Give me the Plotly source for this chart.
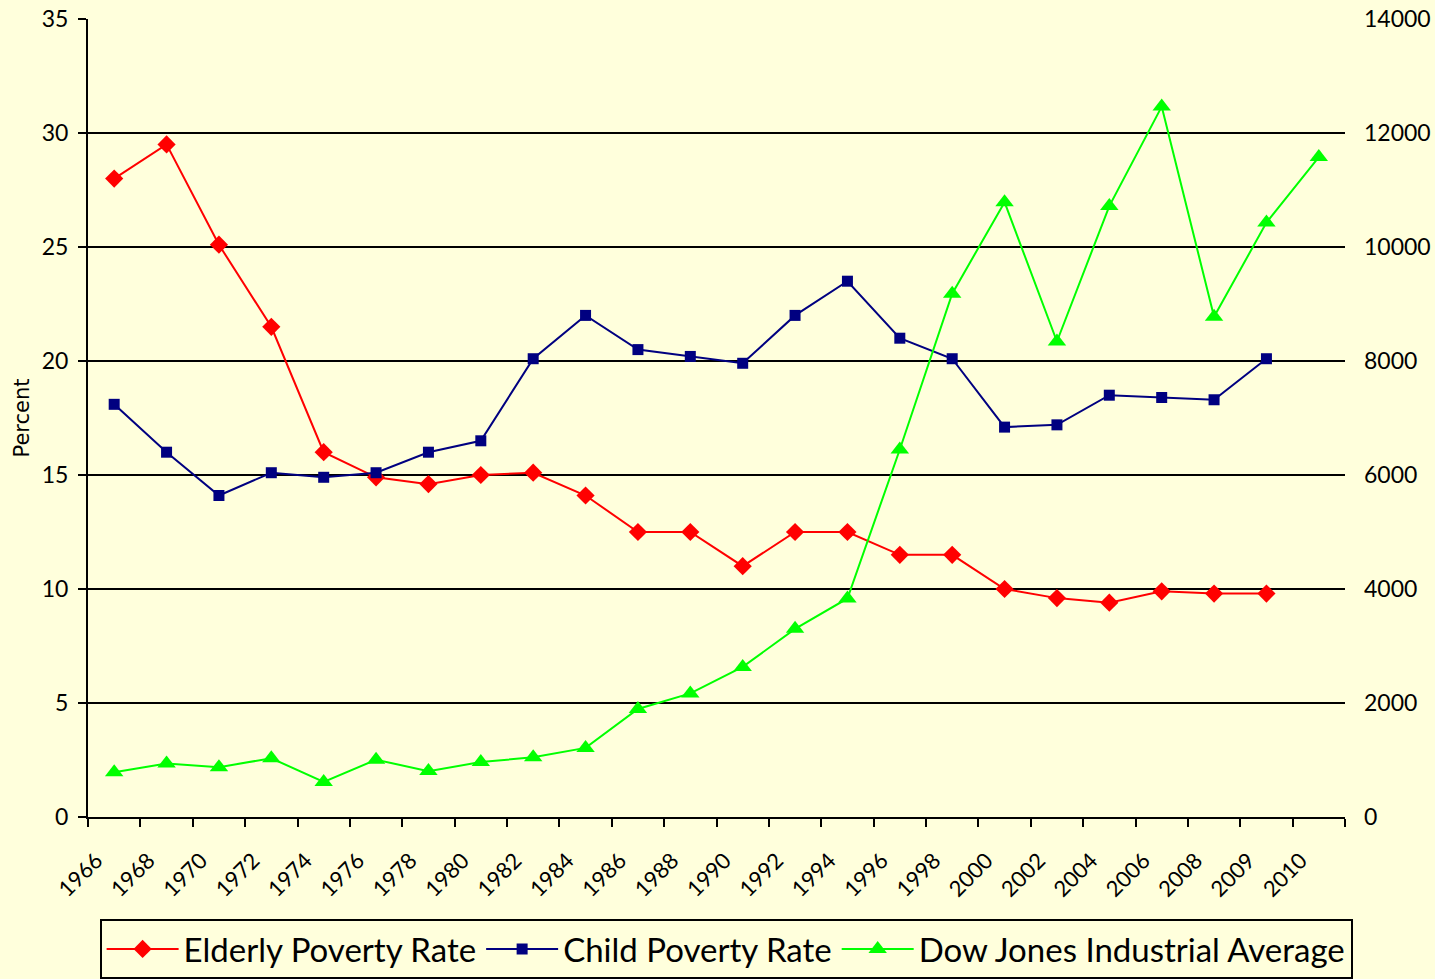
import plotly.graph_objects as go

years = ["1966", "1968", "1970", "1972", "1974", "1976", "1978", "1980", "1982", "1984",
         "1986", "1988", "1990", "1992", "1994", "1996", "1998", "2000", "2002", "2004",
         "2006", "2008", "2009", "2010"]

elderly = [28.0, 29.5, 25.1, 21.5, 16.0, 14.9, 14.6, 15.0, 15.1, 14.1,
           12.5, 12.5, 11.0, 12.5, 12.5, 11.5, 11.5, 10.0, 9.6, 9.4,
           9.9, 9.8, 9.8]

child = [18.1, 16.0, 14.1, 15.1, 14.9, 15.1, 16.0, 16.5, 20.1, 22.0,
         20.5, 20.2, 19.9, 22.0, 23.5, 21.0, 20.1, 17.1, 17.2, 18.5,
         18.4, 18.3, 20.1]

dow = [785, 940, 875, 1030, 616, 1005, 805, 964, 1047, 1212,
       1896, 2168, 2633, 3301, 3834, 6448, 9181, 10787, 8342, 10718,
       12463, 8776, 10428, 11578]

BG = "#FFFFDC"
FONT = "Lato, Carlito, Calibri, sans-serif"

fig = go.Figure()
fig.add_trace(go.Scatter(
    x=years[:len(elderly)], y=elderly, name="Elderly Poverty Rate",
    mode="lines+markers", line=dict(color="#FF0000", width=2),
    marker=dict(symbol="diamond", size=14, color="#FF0000")))
fig.add_trace(go.Scatter(
    x=years[:len(child)], y=child, name="Child Poverty Rate",
    mode="lines+markers", line=dict(color="#000080", width=2),
    marker=dict(symbol="square", size=11, color="#000080")))
fig.add_trace(go.Scatter(
    x=years[:len(dow)], y=dow, name="Dow Jones Industrial Average",
    mode="lines+markers", line=dict(color="#00FF00", width=2),
    marker=dict(symbol="triangle-up", size=16, color="#00FF00"), yaxis="y2"))

fig.update_layout(
    width=1435, height=979,
    paper_bgcolor=BG, plot_bgcolor=BG,
    font=dict(family=FONT, color="#000000", size=20),
    margin=dict(l=88, r=90, t=19, b=162),
    xaxis=dict(type="category", categoryorder="array", categoryarray=years,
               range=[-0.5, len(years) - 0.5], tickangle=-45,
               tickson="boundaries", ticks="outside", ticklen=8, tickwidth=2,
               tickcolor="#000000", showline=True, linecolor="#000000", linewidth=2,
               showgrid=False, zeroline=False, tickfont=dict(size=22),
               ticklabelstandoff=20, ticklabelshift=-18, automargin=False),
    yaxis=dict(range=[0, 35], dtick=5, ticks="outside", ticklen=8, tickwidth=2,
               tickcolor="#000000", showline=True, linecolor="#000000", linewidth=2,
               showgrid=True, gridcolor="#000000", gridwidth=2, zeroline=False,
               title=dict(text="Percent", font=dict(size=21, family="DejaVu Sans"), standoff=6),
               tickfont=dict(size=23), ticklabelstandoff=5, automargin=False),
    yaxis2=dict(range=[0, 14000], dtick=2000, overlaying="y", side="right",
                showgrid=False, showline=False, ticks="", zeroline=False,
                tickformat="d", tickfont=dict(size=23), ticklabelstandoff=18,
                automargin=False),
    legend=dict(orientation="h", xref="container", yref="container",
                x=0.506, xanchor="center", y=1 - 919 / 979, yanchor="top",
                bgcolor=BG, bordercolor="#000000", borderwidth=2,
                font=dict(size=33), itemwidth=72, tracegroupgap=0),
    showlegend=True,
)

fig.write_html("out.html", config={"displayModeBar": False},
               post_script="document.body.style.margin='0';document.body.style.background='#FFFFDC';")
